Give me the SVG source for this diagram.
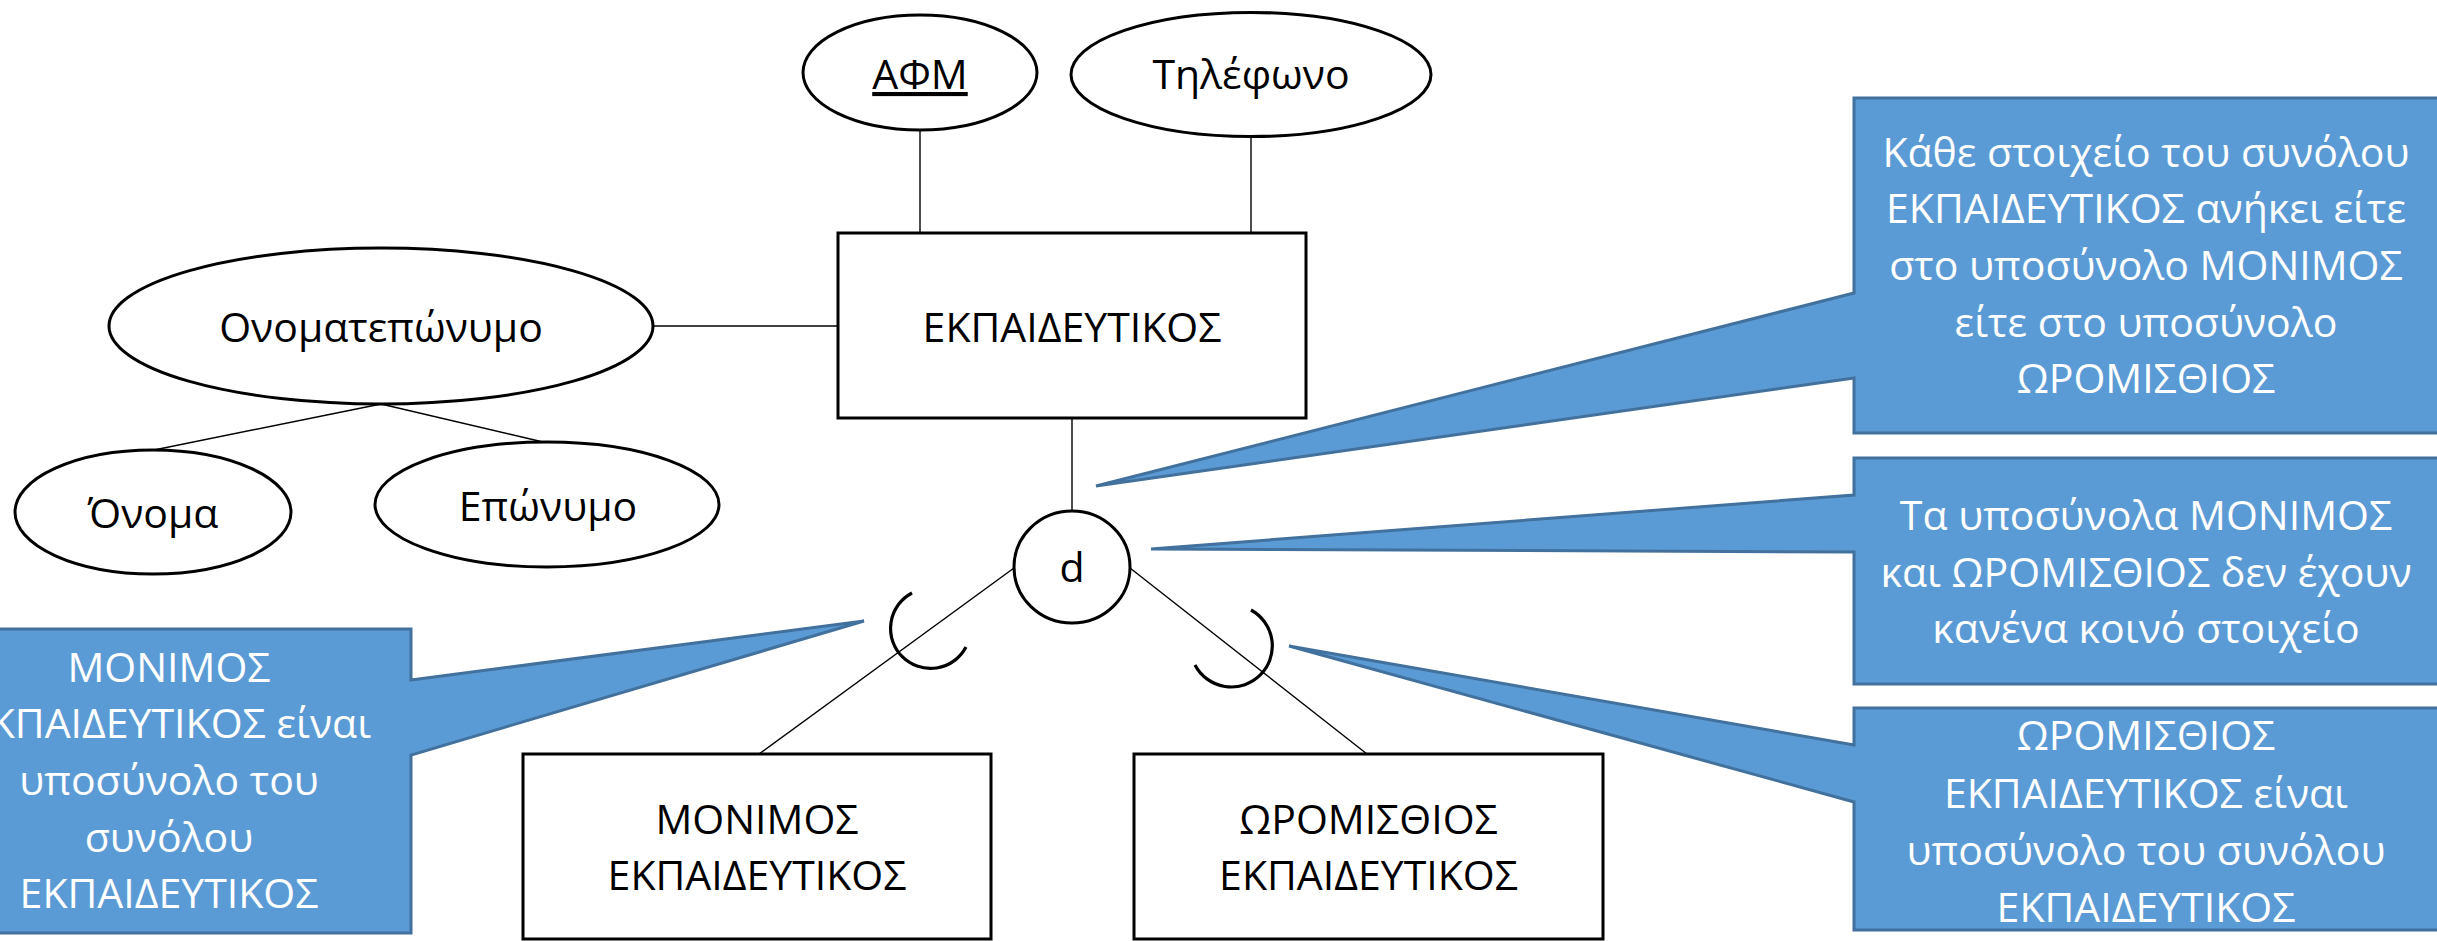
<svg xmlns="http://www.w3.org/2000/svg" width="2437" height="941" viewBox="0 0 2437 941">
  <style>
    .shape { fill: #ffffff; stroke: #000000; stroke-width: 3; }
    .link { stroke: #000000; stroke-width: 1.4; fill: none; }
    .hook { stroke: #000000; stroke-width: 3.2; fill: none; }
    .label { font-family: "Open Sans", "Noto Sans", "DejaVu Sans", sans-serif; font-size: 41px; fill: #000000; text-anchor: middle; }
    .note { fill: #5B9BD5; stroke: #41719C; stroke-width: 3; stroke-linejoin: miter; }
    .note-text { font-family: "Open Sans", "Noto Sans", "DejaVu Sans", sans-serif; font-size: 41px; fill: #ffffff; text-anchor: middle; }
  </style>

  <rect x="0" y="0" width="2437" height="941" fill="#ffffff"/>

  <!-- connectors -->
  <g id="connectors">
    <line class="link" x1="920" y1="130" x2="920" y2="233"/>
    <line class="link" x1="1251" y1="137" x2="1251" y2="233"/>
    <line class="link" x1="653" y1="326" x2="838" y2="326"/>
    <line class="link" x1="381" y1="404" x2="154" y2="450"/>
    <line class="link" x1="381" y1="404" x2="543" y2="442"/>
    <line class="link" x1="1072" y1="418" x2="1072" y2="511"/>
    <line class="link" x1="1014" y1="568" x2="759" y2="754"/>
    <line class="link" x1="1130" y1="568" x2="1367" y2="754"/>
    <!-- subset hooks -->
    <path class="hook" d="M912,593 A40,40 0 1,0 966,647"/>
    <path class="hook" d="M1251,610 A41,41 0 1,1 1195,665"/>
  </g>

  <!-- attributes -->
  <g id="attr-afm">
    <ellipse class="shape" cx="920" cy="72.5" rx="117" ry="57.5"/>
    <text class="label" x="920" y="89" text-decoration="underline">ΑΦΜ</text>
  </g>
  <g id="attr-phone">
    <ellipse class="shape" cx="1251" cy="74.5" rx="180" ry="62"/>
    <text class="label" x="1251" y="89">Τηλέφωνο</text>
  </g>
  <g id="attr-fullname">
    <ellipse class="shape" cx="381" cy="326" rx="272" ry="78"/>
    <text class="label" x="381" y="342">Ονοματεπώνυμο</text>
  </g>
  <g id="attr-firstname">
    <ellipse class="shape" cx="153" cy="512" rx="138" ry="62"/>
    <text class="label" x="153" y="528">Όνομα</text>
  </g>
  <g id="attr-lastname">
    <ellipse class="shape" cx="547" cy="504.5" rx="172" ry="62.5"/>
    <text class="label" x="548" y="521">Επώνυμο</text>
  </g>

  <!-- entities -->
  <g id="entity-teacher">
    <rect class="shape" x="838" y="233" width="468" height="185"/>
    <text class="label" x="1072" y="342">ΕΚΠΑΙΔΕΥΤΙΚΟΣ</text>
  </g>
  <g id="entity-permanent">
    <rect class="shape" x="523" y="754" width="468" height="185"/>
    <text class="label" x="757" y="834">ΜΟΝΙΜΟΣ</text>
    <text class="label" x="757" y="890">ΕΚΠΑΙΔΕΥΤΙΚΟΣ</text>
  </g>
  <g id="entity-hourly">
    <rect class="shape" x="1134" y="754" width="469" height="185"/>
    <text class="label" x="1368.5" y="834">ΩΡΟΜΙΣΘΙΟΣ</text>
    <text class="label" x="1368.5" y="890">ΕΚΠΑΙΔΕΥΤΙΚΟΣ</text>
  </g>

  <!-- disjoint specialization circle -->
  <g id="disjoint">
    <ellipse class="shape" cx="1072" cy="567" rx="58" ry="56"/>
    <text class="label" x="1072" y="582">d</text>
  </g>

  <!-- callouts -->
  <g id="note-total">
    <path class="note" d="M1854,98 L2442,98 L2442,433 L1854,433 L1854,378 L1096,486 L1854,293 Z"/>
    <text class="note-text" x="2146" y="167">Κάθε στοιχείο του συνόλου</text>
    <text class="note-text" x="2146" y="223">ΕΚΠΑΙΔΕΥΤΙΚΟΣ ανήκει είτε</text>
    <text class="note-text" x="2146" y="280">στο υποσύνολο ΜΟΝΙΜΟΣ</text>
    <text class="note-text" x="2146" y="337">είτε στο υποσύνολο</text>
    <text class="note-text" x="2146" y="393">ΩΡΟΜΙΣΘΙΟΣ</text>
  </g>
  <g id="note-disjoint">
    <path class="note" d="M1854,458 L2442,458 L2442,684 L1854,684 L1854,552 L1151,549 L1854,495 Z"/>
    <text class="note-text" x="2146" y="530">Τα υποσύνολα ΜΟΝΙΜΟΣ</text>
    <text class="note-text" x="2146" y="587">και ΩΡΟΜΙΣΘΙΟΣ δεν έχουν</text>
    <text class="note-text" x="2146" y="643">κανένα κοινό στοιχείο</text>
  </g>
  <g id="note-hourly">
    <path class="note" d="M1854,708 L2442,708 L2442,930 L1854,930 L1854,802 L1289,646 L1854,745 Z"/>
    <text class="note-text" x="2146" y="750">ΩΡΟΜΙΣΘΙΟΣ</text>
    <text class="note-text" x="2146" y="808">ΕΚΠΑΙΔΕΥΤΙΚΟΣ είναι</text>
    <text class="note-text" x="2146" y="865">υποσύνολο του συνόλου</text>
    <text class="note-text" x="2146" y="922">ΕΚΠΑΙΔΕΥΤΙΚΟΣ</text>
  </g>
  <g id="note-permanent">
    <path class="note" d="M-75,629 L411,629 L411,680 L864,621 L411,755 L411,933 L-75,933 Z"/>
    <text class="note-text" x="169" y="682">ΜΟΝΙΜΟΣ</text>
    <text class="note-text" x="169" y="738">ΕΚΠΑΙΔΕΥΤΙΚΟΣ είναι</text>
    <text class="note-text" x="169" y="795">υποσύνολο του</text>
    <text class="note-text" x="169" y="852">συνόλου</text>
    <text class="note-text" x="169" y="908">ΕΚΠΑΙΔΕΥΤΙΚΟΣ</text>
  </g>
</svg>
